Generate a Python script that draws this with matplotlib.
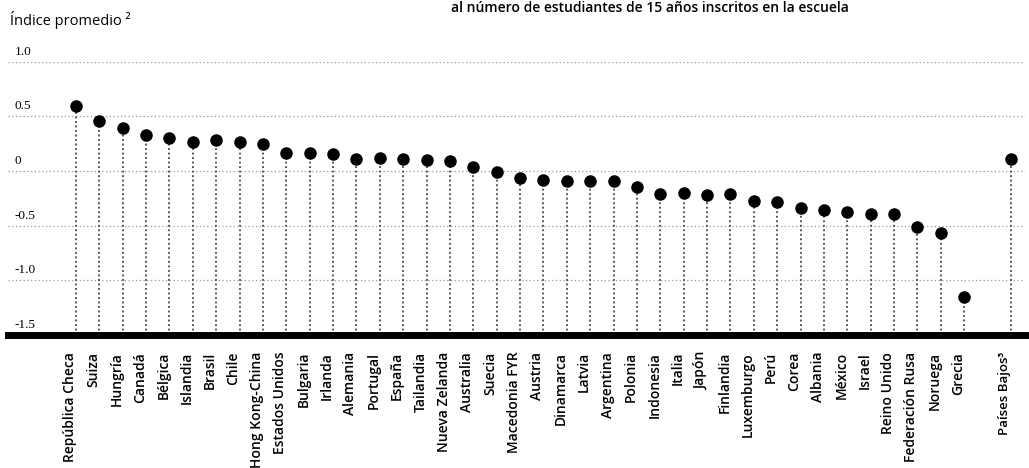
import matplotlib
matplotlib.use('Agg')
import matplotlib.pyplot as plt
import matplotlib.transforms as mtransforms
import numpy as np

# data
countries = ['República Checa', 'Suiza', 'Hungría', 'Canadá', 'Bélgica', 'Islandia',
             'Brasil', 'Chile', 'Hong Kong-China', 'Estados Unidos', 'Bulgaria', 'Irlanda',
             'Alemania', 'Portugal', 'España', 'Tailandia', 'Nueva Zelanda', 'Australia',
             'Suecia', 'Macedonia FYR', 'Austria', 'Dinamarca', 'Latvia', 'Argentina',
             'Polonia', 'Indonesia', 'Italia', 'Japón', 'Finlandia', 'Luxemburgo', 'Perú',
             'Corea', 'Albania', 'México', 'Israel', 'Reino Unido', 'Federación Rusa',
             'Noruega', 'Grecia']
values = [0.60, 0.46, 0.39, 0.33, 0.30, 0.27, 0.28, 0.27, 0.25, 0.17, 0.17, 0.16,
          0.11, 0.12, 0.11, 0.10, 0.09, 0.04, -0.01, -0.06, -0.08, -0.09, -0.09, -0.09,
          -0.15, -0.21, -0.20, -0.22, -0.21, -0.27, -0.28, -0.34, -0.36, -0.37, -0.39,
          -0.39, -0.51, -0.57, -1.15]
extra_country = 'Países Bajos³'
extra_value = 0.11

y_ticks = [1.0, 0.5, 0, -0.5, -1.0, -1.5]
y_tick_labels = ['1.0', '0.5', '0', '-0.5', '-1.0', '-1.5']

title_text = 'al número de estudiantes de 15 años inscritos en la escuela'
ylabel_text = 'Índice promedio ²'

sans = ['Open Sans', 'DejaVu Sans']

x = np.arange(len(countries))
x_extra = len(countries) + 1
all_x = list(x) + [x_extra]
all_vals = values + [extra_value]
all_labels = countries + [extra_country]

fig = plt.figure(figsize=(10.29, 4.68), dpi=100)
ax = fig.add_axes([0.008, 0.284, 0.988, 0.584])

ymin = y_ticks[-1]
for yt in y_ticks[:-1]:
    ax.axhline(yt, color='#999999', lw=0.9, ls=(0, (1, 2)), zorder=1)

ax.vlines(all_x, ymin, all_vals, colors='#444444', lw=1.3,
          linestyles=(0, (1, 1.5)), zorder=2)
ax.plot(all_x, all_vals, 'o', color='black', ms=8, zorder=3, clip_on=False)

ax.set_xlim(-2.9, 40.6)
ax.set_ylim(ymin, 1.0)

for s in ['top', 'right', 'left']:
    ax.spines[s].set_visible(False)
ax.spines['bottom'].set_linewidth(5)
ax.spines['bottom'].set_color('black')
ax.set_yticks([])

ax.set_xticks(all_x)
ax.set_xticklabels(all_labels, rotation=90, fontsize=10, fontweight='semibold',
                   family=sans, ha='center', va='top')
ax.tick_params(axis='x', length=0, pad=12)
shift = mtransforms.ScaledTranslation(-6 / 100, 0, fig.dpi_scale_trans)
for lbl in ax.get_xticklabels():
    lbl.set_transform(lbl.get_transform() + shift)
ax.get_xticklabels()[-1].set_fontsize(9.5)

# y values sit just above their gridlines, inside the plot
ytrans = mtransforms.blended_transform_factory(ax.transAxes, ax.transData)
for yt, lab in zip(y_ticks, y_tick_labels):
    ax.annotate(lab, xy=(0.006, yt), xycoords=ytrans, xytext=(0, 3),
                textcoords='offset points', ha='left', va='bottom',
                fontsize=9.5, family=['Liberation Serif', 'DejaVu Serif'])

fig.text(10 / 1029, 1 - 20 / 468, ylabel_text, fontsize=10.5, family=sans,
         ha='left', va='center')
fig.text(650 / 1029, 1 - 8 / 468, title_text, fontsize=10, family=sans,
         fontweight='semibold', ha='center', va='center')

fig.savefig('out.png', dpi=100)
